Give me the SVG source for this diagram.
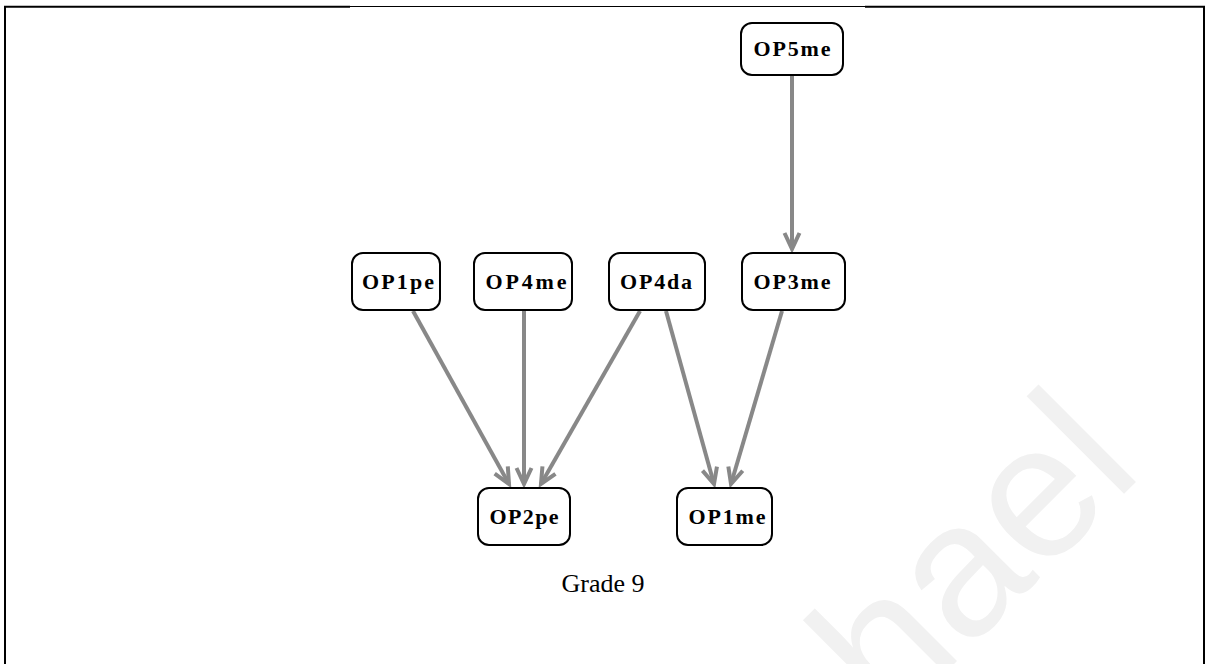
<svg xmlns="http://www.w3.org/2000/svg" width="1208" height="664" viewBox="0 0 1208 664">
  <style>
    .frame { stroke: #000; fill: none; }
    .node rect { fill: #fff; stroke: #000; stroke-width: 2; }
    .node text { font-family: "Liberation Serif", "Times New Roman", serif; font-weight: bold; font-size: 22px; fill: #000; text-anchor: middle; }
    .edge { stroke: #888; stroke-width: 4; fill: none; marker-end: url(#arrow); }
    .caption { font-family: "Liberation Serif", "Times New Roman", serif; font-size: 26px; fill: #000; text-anchor: middle; }
    .mark { font-family: "Liberation Sans", Arial, sans-serif; font-size: 190px; fill: #f1f1f1; }
  </style>
  <defs>
    <marker id="arrow" markerUnits="userSpaceOnUse" orient="auto" refX="0" refY="0" markerWidth="20" markerHeight="20" overflow="visible">
      <path d="M-16,-7.5 L0,0 L-16,7.5" fill="none" stroke="#888" stroke-width="4" stroke-linejoin="miter"/>
    </marker>
  </defs>

  <rect width="1208" height="664" fill="#fff"/>

  <!-- watermark -->
  <text class="mark" transform="rotate(-45)" x="116" y="1144">hael</text>

  <!-- page frame -->
  <g id="frame">
    <line class="frame" x1="4" y1="6.7" x2="350" y2="6.7" stroke-width="2"/>
    <line class="frame" x1="350" y1="6.5" x2="865" y2="6.5" stroke-width="1"/>
    <line class="frame" x1="865" y1="6.7" x2="1205" y2="6.7" stroke-width="2"/>
    <line class="frame" x1="5" y1="6" x2="5" y2="664" stroke-width="2"/>
    <line class="frame" x1="1204" y1="6" x2="1204" y2="664" stroke-width="2"/>
  </g>

  <!-- connectors -->
  <g id="edges">
    <line class="edge" x1="792" y1="76" x2="792" y2="249"/>
    <line class="edge" x1="413" y1="311" x2="509" y2="484"/>
    <line class="edge" x1="524" y1="311" x2="524" y2="484"/>
    <line class="edge" x1="640" y1="311" x2="541" y2="484"/>
    <line class="edge" x1="666" y1="311" x2="714" y2="484"/>
    <line class="edge" x1="782" y1="311" x2="731" y2="484"/>
  </g>

  <!-- nodes -->
  <g id="OP5me" class="node">
    <rect x="741" y="23" width="102" height="52" rx="11"/>
    <text x="792" y="56" textLength="77" lengthAdjust="spacing">OP5me</text>
  </g>
  <g id="OP1pe" class="node">
    <rect x="352" y="253" width="88" height="57" rx="11"/>
    <text x="398" y="289" textLength="72" lengthAdjust="spacing">OP1pe</text>
  </g>
  <g id="OP4me" class="node">
    <rect x="474" y="253" width="98" height="57" rx="11"/>
    <text x="526" y="289" textLength="81" lengthAdjust="spacing">OP4me</text>
  </g>
  <g id="OP4da" class="node">
    <rect x="609" y="253" width="96" height="57" rx="11"/>
    <text x="656" y="289" textLength="72" lengthAdjust="spacing">OP4da</text>
  </g>
  <g id="OP3me" class="node">
    <rect x="742" y="253" width="103" height="57" rx="11"/>
    <text x="792" y="289" textLength="77" lengthAdjust="spacing">OP3me</text>
  </g>
  <g id="OP2pe" class="node">
    <rect x="478" y="488" width="92" height="57" rx="11"/>
    <text x="524" y="524" textLength="69" lengthAdjust="spacing">OP2pe</text>
  </g>
  <g id="OP1me" class="node">
    <rect x="677" y="488" width="95" height="57" rx="11"/>
    <text x="727" y="524" textLength="77" lengthAdjust="spacing">OP1me</text>
  </g>

  <!-- caption -->
  <text class="caption" x="603" y="592">Grade 9</text>
</svg>
